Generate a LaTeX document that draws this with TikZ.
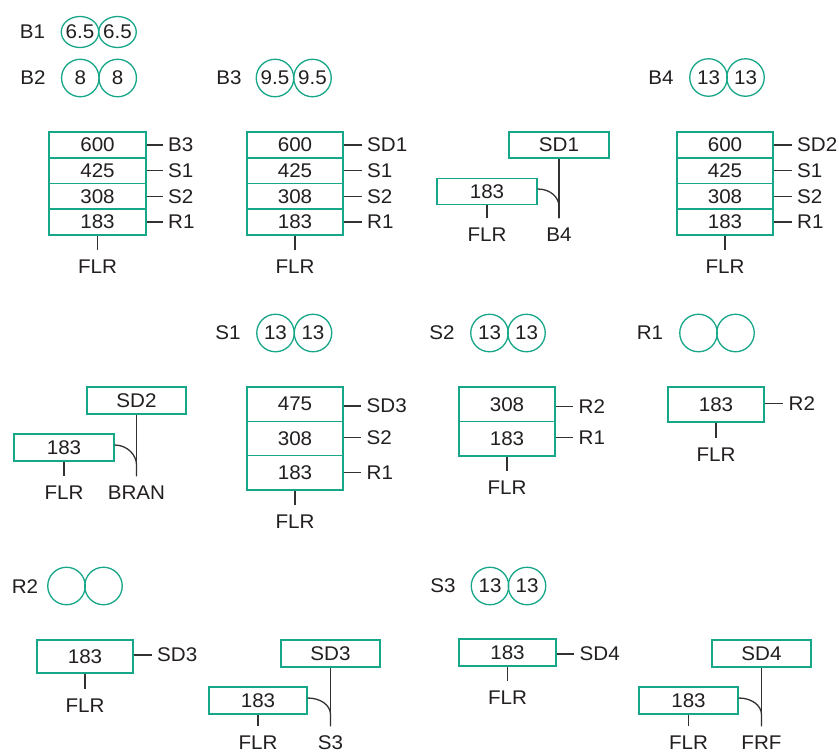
\documentclass[tikz,border=0pt]{standalone}
\usepackage{fontspec}
\setmainfont{Liberation Sans}[FakeStretch=1.04]
\usetikzlibrary{shapes.geometric}
\definecolor{boxgreen}{RGB}{22,166,136}
\definecolor{ink}{RGB}{35,31,32}
\definecolor{lead}{RGB}{50,50,50}

\begin{document}
\begin{tikzpicture}[x=1pt,y=-1pt,
  font=\fontsize{19.8}{23}\selectfont, text=ink,
  cell/.style={draw=boxgreen, line width=1.3pt, inner sep=0pt,
               minimum width=96pt, minimum height=26pt},
  ring/.style={circle, draw=boxgreen, line width=1.3pt, inner sep=0pt,
               minimum size=37.5pt},
  oval/.style={ellipse, draw=boxgreen, line width=1.3pt, inner sep=0pt,
               minimum width=37.5pt, minimum height=31pt},
  tag/.style={inner sep=0pt},
  side/.style={anchor=west, inner xsep=5.5pt, inner ysep=0pt},
  foot/.style={inner xsep=0pt, inner ysep=9.5pt},
  wire/.style={draw=lead, line width=1.3pt}]

\useasboundingbox[fill=white] (0,0) rectangle (839,753);

% ---- pairs of rings with their names ----
\node[tag]  (tB1) at (32.5,32) {B1};
\node[oval] (b1a) at (80,32)   {\makebox[20pt]{6.5}};
\node[oval] (b1b) at (117.5,32){\makebox[20pt]{6.5}};

\node[tag]  (tB2) at (33,78)    {B2};
\node[ring] (b2a) at (80.3,78)  {8};
\node[ring] (b2b) at (117.7,78) {8};

\node[tag]  (tB3) at (229,78)   {B3};
\node[ring] (b3a) at (275,78)   {9.5};
\node[ring] (b3b) at (312.5,78) {9.5};

\node[tag]  (tB4) at (661,78)     {B4};
\node[ring] (b4a) at (708.5,77.5) {13};
\node[ring] (b4b) at (745.5,77.5) {13};

\node[tag]  (tS1) at (228,333)   {S1};
\node[ring] (s1a) at (275.5,333) {13};
\node[ring] (s1b) at (313,333)   {13};

\node[tag]  (tS2) at (442,333)   {S2};
\node[ring] (s2a) at (489.5,333) {13};
\node[ring] (s2b) at (526.5,333) {13};

\node[tag]  (tR1) at (650,333)   {R1};
\node[ring] (r1a) at (698.5,333) {};
\node[ring] (r1b) at (735.5,333) {};

\node[tag]  (tR2) at (25,587)    {R2};
\node[ring] (r2a) at (66.5,586)  {};
\node[ring] (r2b) at (103.5,586) {};

\node[tag]  (tS3) at (443,586)   {S3};
\node[ring] (s3a) at (490,586)   {13};
\node[ring] (s3b) at (527,586)   {13};

% ---- stack under B2 ----
\node[cell, minimum width=97pt] (a1) at (97.5,144.9) {600};
\node[cell, minimum width=97pt] (a2) at (97.5,170.6) {425};
\node[cell, minimum width=97pt] (a3) at (97.5,196.4) {308};
\node[cell, minimum width=97pt] (a4) at (97.5,222.1) {183};
\node[side] (la1) at (162.5,144.9) {B3};
\node[side] (la2) at (162.5,170.6) {S1};
\node[side] (la3) at (162.5,196.4) {S2};
\node[side] (la4) at (162.5,222.1) {R1};
\node[foot] (fa) at (97.5,267) {FLR};
\foreach \i in {1,...,4} \draw[wire] (a\i.east) -- (la\i.west);
\draw[wire] (a4.south) -- (fa.north);

% ---- stack under B3 ----
\node[cell] (c1) at (295,144.9) {600};
\node[cell] (c2) at (295,170.6) {425};
\node[cell] (c3) at (295,196.4) {308};
\node[cell] (c4) at (295,222.1) {183};
\node[side] (lc1) at (361.5,144.9) {SD1};
\node[side] (lc2) at (361.5,170.6) {S1};
\node[side] (lc3) at (361.5,196.4) {S2};
\node[side] (lc4) at (361.5,222.1) {R1};
\node[foot] (fc) at (295,267) {FLR};
\foreach \i in {1,...,4} \draw[wire] (c\i.east) -- (lc\i.west);
\draw[wire] (c4.south) -- (fc.north);

% ---- SD1 crossing ----
\node[cell, minimum width=100pt] (x1t) at (559,145)   {SD1};
\node[cell, minimum width=100pt] (x1b) at (487,191.5) {183};
\node[foot] (x1f) at (487,235) {FLR};
\node[foot] (x1g) at (559,235) {B4};
\draw[wire] (x1b.south) -- (x1f.north);
\draw[wire] (x1t.south) -- (x1g.north);
\draw[wire] ([yshift=2.5pt]x1b.east) .. controls +(13pt,0pt) and +(0pt,9pt) ..
  ([yshift=12pt]x1g.north) -- (x1g.north);

% ---- stack under B4 ----
\node[cell] (d1) at (725,144.9) {600};
\node[cell] (d2) at (725,170.6) {425};
\node[cell] (d3) at (725,196.4) {308};
\node[cell] (d4) at (725,222.1) {183};
\node[side] (ld1) at (791.5,144.9) {SD2};
\node[side] (ld2) at (791.5,170.6) {S1};
\node[side] (ld3) at (791.5,196.4) {S2};
\node[side] (ld4) at (791.5,222.1) {R1};
\node[foot] (fd) at (725,266.5) {FLR};
\foreach \i in {1,...,4} \draw[wire] (d\i.east) -- (ld\i.west);
\draw[wire] (d4.south) -- (fd.north);

% ---- SD2 crossing ----
\node[cell, minimum width=99pt, minimum height=27pt]  (x2t) at (136.5,400.5) {SD2};
\node[cell, minimum width=100pt, minimum height=27pt] (x2b) at (64,447.5)    {183};
\node[foot] (x2f) at (64,493)    {FLR};
\node[foot] (x2g) at (136.5,493) {BRAN};
\draw[wire] (x2b.south) -- (x2f.north);
\draw[wire] (x2t.south) -- (x2g.north);
\draw[wire] ([yshift=2.5pt]x2b.east) .. controls +(13pt,0pt) and +(0pt,9pt) ..
  ([yshift=12pt]x2g.north) -- (x2g.north);

% ---- stack under S1 ----
\node[cell, minimum height=34.3pt] (e1) at (295,404.2) {475};
\node[cell, minimum height=34.3pt] (e2) at (295,438.5) {308};
\node[cell, minimum height=34.3pt] (e3) at (295,472.8) {183};
\node[side] (le1) at (361,406) {SD3};
\node[side] (le2) at (361,437.5) {S2};
\node[side] (le3) at (361,472.5) {R1};
\node[foot] (fe) at (295,522) {FLR};
\foreach \i in {1,...,3} \draw[wire] (e\i.east |- le\i.west) -- (le\i.west);
\draw[wire] (e3.south) -- (fe.north);

% ---- stack under S2 ----
\node[cell, minimum height=34.5pt] (g1) at (507,404.25) {308};
\node[cell, minimum height=34.5pt] (g2) at (507,438.75) {183};
\node[side] (lg1) at (573,406.5) {R2};
\node[side] (lg2) at (573,437.5) {R1};
\node[foot] (fg) at (507,488) {FLR};
\foreach \i in {1,2} \draw[wire] (g\i.east |- lg\i.west) -- (lg\i.west);
\draw[wire] (g2.south) -- (fg.north);

% ---- box under R1 ----
\node[cell, minimum height=35pt] (h1) at (716,404.5) {183};
\node[side] (lh1) at (783,403.5) {R2};
\node[foot] (fh) at (716,455) {FLR};
\draw[wire] (h1.east |- lh1.west) -- (lh1.west);
\draw[wire] (h1.south) -- (fh.north);

% ---- box under R2 ----
\node[cell, minimum height=33pt] (k1) at (85,656.5) {183};
\node[side] (lk1) at (151.5,655) {SD3};
\node[foot] (fk) at (85,706) {FLR};
\draw[wire] (k1.east |- lk1.west) -- (lk1.west);
\draw[wire] (k1.south) -- (fk.north);

% ---- SD3 crossing ----
\node[cell, minimum width=99pt, minimum height=27pt] (x3t) at (330.5,653.5) {SD3};
\node[cell, minimum width=98pt, minimum height=27pt] (x3b) at (258,700.5)   {183};
\node[foot] (x3f) at (258,743)   {FLR};
\node[foot] (x3g) at (330.5,743) {S3};
\draw[wire] (x3b.south) -- (x3f.north);
\draw[wire] (x3t.south) -- (x3g.north);
\draw[wire] ([yshift=2.5pt]x3b.east) .. controls +(13pt,0pt) and +(0pt,9pt) ..
  ([yshift=12pt]x3g.north) -- (x3g.north);

% ---- box under S3 ----
\node[cell, minimum width=97pt, minimum height=27pt] (m1) at (507.5,652.5) {183};
\node[side] (lm1) at (574,654) {SD4};
\node[foot] (fm) at (507.5,698) {FLR};
\draw[wire] (m1.east |- lm1.west) -- (lm1.west);
\draw[wire] (m1.south) -- (fm.north);

% ---- SD4 crossing ----
\node[cell, minimum width=99pt, minimum height=27pt] (x4t) at (761.5,653.5) {SD4};
\node[cell, minimum width=99pt, minimum height=27pt] (x4b) at (688.5,700.5) {183};
\node[foot] (x4f) at (688.5,743) {FLR};
\node[foot] (x4g) at (761.5,743) {FRF};
\draw[wire] (x4b.south) -- (x4f.north);
\draw[wire] (x4t.south) -- (x4g.north);
\draw[wire] ([yshift=2.5pt]x4b.east) .. controls +(13pt,0pt) and +(0pt,9pt) ..
  ([yshift=12pt]x4g.north) -- (x4g.north);

\end{tikzpicture}
\end{document}
